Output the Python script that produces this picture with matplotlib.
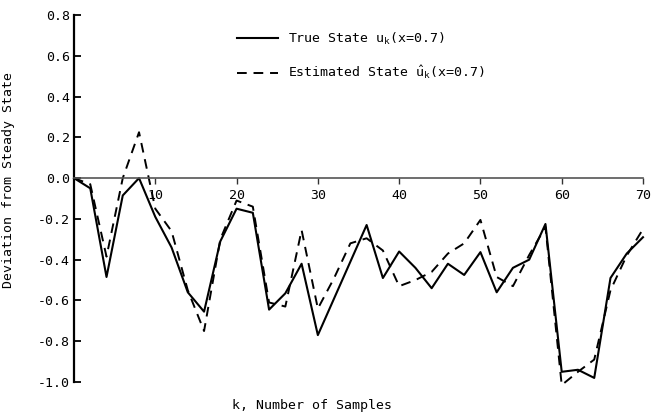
import matplotlib
matplotlib.use("Agg")
import matplotlib.pyplot as plt

k = [0, 2, 4, 6, 8, 10, 12, 14, 16, 18, 20, 22, 24, 26, 28, 30, 32, 34,
     36, 38, 40, 42, 44, 46, 48, 50, 52, 54, 56, 58, 60, 62, 64, 66, 68, 70]
true_state = [0.0, -0.05, -0.485, -0.085, 0.0, -0.19, -0.34, -0.56, -0.655,
              -0.31, -0.15, -0.17, -0.645, -0.565, -0.42, -0.77, -0.59, -0.41,
              -0.23, -0.49, -0.36, -0.44, -0.54, -0.42, -0.475, -0.363, -0.56,
              -0.44, -0.40, -0.225, -0.95, -0.94, -0.98, -0.49, -0.37, -0.29]
est_state = [0.0, -0.03, -0.385, 0.0, 0.225, -0.15, -0.26, -0.55, -0.75,
             -0.30, -0.11, -0.14, -0.61, -0.63, -0.255, -0.64, -0.49, -0.32,
             -0.295, -0.355, -0.53, -0.50, -0.46, -0.37, -0.32, -0.205, -0.485,
             -0.53, -0.377, -0.24, -1.015, -0.95, -0.89, -0.55, -0.38, -0.25]
xticks = [10, 20, 30, 40, 50, 60, 70]
yticks = [-1.0, -0.8, -0.6, -0.4, -0.2, 0.0, 0.2, 0.4, 0.6, 0.8]
label_true = "True State u$_\\mathrm{k}$(x=0.7)"
label_est = "Estimated State $\\hat{\\mathrm{u}}_\\mathrm{k}$(x=0.7)"

FONT = "DejaVu Sans Mono"
plt.rcParams["font.family"] = [FONT]
plt.rcParams["mathtext.fontset"] = "custom"
plt.rcParams["mathtext.rm"] = FONT
plt.rcParams["mathtext.it"] = FONT
plt.rcParams["axes.unicode_minus"] = False

fig = plt.figure(figsize=(6.63, 4.17), dpi=100)
ax = fig.add_axes([74/663, 1-382/417, 569/663, 367/417])

ax.plot(k, true_state, color="black", lw=1.5, ls="-", label=label_true,
        clip_on=False)
ax.plot(k, est_state, color="black", lw=1.4, ls=(0, (5, 3.5)), label=label_est,
        clip_on=False)

ax.set_xlim(0, 70)
ax.set_ylim(-1.0, 0.8)
ax.spines["top"].set_visible(False)
ax.spines["right"].set_visible(False)
ax.spines["bottom"].set_position(("data", 0))
ax.spines["bottom"].set_color("#555555")
ax.spines["bottom"].set_linewidth(1.2)
ax.spines["left"].set_linewidth(1.6)

ax.set_xticks(xticks)
ax.set_xticklabels([str(v) for v in xticks])
ax.set_yticks(yticks)
ax.set_yticklabels([f"{v:.1f}" for v in yticks])
ax.tick_params(axis="x", direction="out", length=4, width=1, pad=4,
               labelsize=9.5, color="#333333")
ax.tick_params(axis="y", direction="in", length=5, width=1.3, pad=3,
               labelsize=9.5)

ax.set_ylabel("Deviation from Steady State", fontsize=9.5)
ax.yaxis.set_label_coords(-0.104, 0.55)
ax.set_xlabel("k, Number of Samples", fontsize=9.5)
ax.xaxis.set_label_coords(0.418, -0.045)

ax.legend(loc="upper left", bbox_to_anchor=(0.286, 0.957), frameon=False,
          fontsize=9.5, handlelength=3.1, handletextpad=0.75,
          labelspacing=1.3, borderpad=0, borderaxespad=0)

fig.savefig("out.png", dpi=100)
